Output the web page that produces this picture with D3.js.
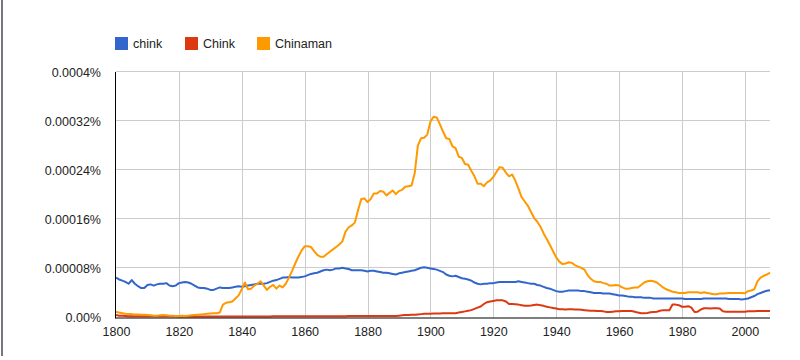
<!DOCTYPE html>
<html>
<head>
<meta charset="utf-8">
<script src="https://cdn.jsdelivr.net/npm/d3@7"></script>
<style>
  html, body { margin: 0; padding: 0; background: #fff; }
  svg { display: block; font-family: "Liberation Sans", Arial, Helvetica, sans-serif; }
</style>
</head>
<body>
<svg id="chart" width="800" height="360"></svg>
<script>
// ---- Data (values in units of 0.00001 %) ----
const startYear = 1800;
const endYear = 2008;
const unit = 1e-5; // one data unit = 0.00001 %

const seriesNames = ["chink", "Chink", "Chinaman"];
const seriesColors = ["#3366cc", "#dc3912", "#ff9900"];

const chinkValues = [
  6.5,6.2,6.0,5.8,5.5,6.1,5.5,5.1,4.8,4.8,
  5.3,5.4,5.2,5.4,5.5,5.5,5.6,5.2,5.1,5.2,
  5.6,5.7,5.8,5.7,5.5,5.2,4.9,4.8,4.8,4.7,
  4.5,4.5,4.7,4.9,4.8,4.8,4.8,4.9,5.0,5.1,
  5.0,5.1,5.2,5.3,5.4,5.5,5.5,5.5,5.6,5.8,
  6.0,6.1,6.3,6.5,6.5,6.6,6.5,6.5,6.5,6.6,
  6.7,6.9,7.1,7.2,7.3,7.5,7.7,7.8,7.7,7.8,
  8.0,8.0,8.1,8.0,7.9,7.7,7.7,7.7,7.7,7.6,
  7.5,7.6,7.6,7.5,7.4,7.3,7.3,7.2,7.1,7.0,
  7.2,7.3,7.4,7.5,7.6,7.7,7.9,8.1,8.2,8.1,
  8.0,7.9,7.8,7.6,7.4,7.0,6.8,6.7,6.8,6.6,
  6.4,6.3,6.2,6.0,5.7,5.5,5.4,5.5,5.5,5.6,
  5.6,5.7,5.8,5.8,5.8,5.8,5.8,5.8,5.9,5.8,
  5.7,5.6,5.5,5.5,5.3,5.2,5.0,4.8,4.7,4.5,
  4.3,4.2,4.2,4.3,4.4,4.4,4.4,4.4,4.3,4.3,
  4.2,4.1,4.0,4.0,4.0,3.9,3.9,3.9,3.8,3.7,
  3.6,3.6,3.5,3.4,3.4,3.3,3.3,3.3,3.2,3.2,
  3.2,3.1,3.1,3.1,3.1,3.1,3.1,3.1,3.1,3.1,
  3.1,3.0,3.0,3.0,3.0,3.0,3.0,3.1,3.1,3.1,
  3.1,3.1,3.1,3.1,3.1,3.0,3.0,3.0,3.0,2.95,
  3.0,3.1,3.3,3.5,3.8,4.0,4.2,4.35,4.45
];

const ChinkValues = [
  0.4,0.3,0.3,0.25,0.2,0.2,0.2,0.2,0.2,0.2,
  0.2,0.2,0.2,0.2,0.2,0.2,0.2,0.2,0.2,0.2,
  0.15,0.15,0.15,0.15,0.15,0.15,0.15,0.15,0.15,0.15,
  0.15,0.15,0.15,0.15,0.15,0.15,0.15,0.15,0.15,0.15,
  0.15,0.15,0.15,0.15,0.15,0.15,0.15,0.15,0.15,0.15,
  0.2,0.2,0.2,0.2,0.2,0.2,0.2,0.2,0.2,0.2,
  0.2,0.2,0.2,0.2,0.2,0.2,0.2,0.2,0.2,0.2,
  0.2,0.2,0.2,0.2,0.25,0.25,0.25,0.25,0.25,0.25,
  0.25,0.25,0.25,0.25,0.25,0.25,0.25,0.25,0.25,0.25,
  0.3,0.35,0.4,0.4,0.45,0.45,0.5,0.55,0.6,0.6,
  0.6,0.65,0.65,0.65,0.7,0.7,0.7,0.7,0.7,0.8,
  0.9,1.0,1.1,1.2,1.4,1.6,1.8,2.2,2.5,2.6,
  2.7,2.8,2.8,2.8,2.6,2.2,2.2,2.15,2.1,2.0,
  1.9,1.9,1.95,2.05,2.1,2.0,1.9,1.75,1.65,1.55,
  1.45,1.35,1.35,1.3,1.35,1.35,1.3,1.3,1.25,1.2,
  1.15,1.1,1.1,1.05,1.05,1.0,0.9,0.9,0.95,1.0,
  1.0,1.05,1.05,1.05,1.05,0.95,0.8,0.7,0.7,0.75,
  0.85,0.9,0.95,1.1,1.2,1.2,1.2,2.1,2.1,2.0,
  1.75,1.75,1.85,1.6,0.9,0.95,1.3,1.5,1.5,1.45,
  1.5,1.5,1.45,1.0,0.95,0.95,0.95,0.95,0.95,0.95,
  0.95,1.0,1.0,1.0,1.05,1.05,1.05,1.05,1.05
];

const ChinamanValues = [
  0.95,0.8,0.7,0.6,0.55,0.55,0.5,0.5,0.45,0.45,
  0.4,0.35,0.3,0.3,0.35,0.4,0.35,0.3,0.3,0.25,
  0.25,0.3,0.25,0.3,0.35,0.4,0.45,0.5,0.55,0.6,
  0.65,0.7,0.7,0.8,2.1,2.4,2.5,2.6,3.1,3.6,
  4.6,5.7,4.6,4.7,5.2,5.5,5.9,5.2,4.5,5.0,
  5.3,4.7,5.2,4.9,5.5,6.5,7.6,8.8,9.9,10.9,
  11.6,11.6,11.5,10.8,10.2,9.9,9.9,10.3,10.7,11.1,
  11.5,11.9,12.4,14.0,14.7,15.0,15.5,17.5,19.3,19.4,
  18.8,19.3,20.2,20.2,20.6,20.5,19.9,20.3,20.7,20.1,
  20.6,20.8,21.3,21.4,21.5,23.5,28.0,29.2,29.3,29.8,
  31.9,32.7,32.6,31.5,30.3,29.2,29.1,27.9,27.6,26.2,
  26.0,25.0,24.9,23.9,23.0,21.8,21.8,21.4,22.0,22.3,
  22.9,23.7,24.5,24.4,23.6,23.0,23.3,22.3,21.0,19.6,
  18.9,18.2,17.2,16.2,15.6,14.8,13.7,12.8,11.8,10.8,
  9.8,9.1,8.7,8.8,9.0,8.9,8.5,8.3,8.1,7.8,
  6.9,6.3,5.9,5.8,5.8,5.6,5.5,5.2,5.2,5.3,
  5.2,4.9,4.7,4.7,4.8,4.9,4.9,5.3,5.7,5.9,
  6.0,5.9,5.7,5.3,4.9,4.6,4.4,4.2,4.1,4.0,
  4.0,4.0,4.1,4.1,4.1,4.1,4.0,4.1,4.0,3.9,
  3.8,3.8,3.9,3.9,3.95,4.0,4.0,4.0,4.0,4.0,
  3.95,4.3,4.4,4.6,5.9,6.5,6.8,7.0,7.3
];

const xTickValues = [1800, 1820, 1840, 1860, 1880, 1900, 1920, 1940, 1960, 1980, 2000];
const yTickValues = [0, 0.00008, 0.00016, 0.00024, 0.00032, 0.0004];
const yTickLabels = ["0.00%", "0.00008%", "0.00016%", "0.00024%", "0.00032%", "0.0004%"];

// ---- Build ----
(function () {
const years = d3.range(startYear, endYear + 1);
const allSeries = [chinkValues, ChinkValues, ChinamanValues].map((vals, i) => ({
  name: seriesNames[i],
  color: seriesColors[i],
  points: vals.map((v, j) => ({ year: years[j], value: v * unit })).filter(p => p.year !== undefined)
}));

const svg = d3.select("#chart");
const pLeft = 116, pRight = 770, pTop = 72, pBottom = 317.5;

const x = d3.scaleLinear().domain([startYear, endYear]).range([pLeft, pRight]);
const y = d3.scaleLinear().domain([0, 0.0004]).range([pBottom, pTop]);

// outer frame line on the left
svg.append("line")
  .attr("x1", 2).attr("x2", 2).attr("y1", 0).attr("y2", 356)
  .attr("stroke", "#2a2f3a").attr("stroke-width", 1.3);

// grid
const grid = svg.append("g");
grid.selectAll("line.v").data(xTickValues.slice(1)).join("line")
  .attr("x1", d => Math.round(x(d)) + 0.5).attr("x2", d => Math.round(x(d)) + 0.5)
  .attr("y1", pTop).attr("y2", pBottom)
  .attr("stroke", "#cccccc").attr("stroke-width", 1);
grid.selectAll("line.h").data(yTickValues.slice(1)).join("line")
  .attr("x1", pLeft).attr("x2", pRight)
  .attr("y1", d => Math.round(y(d)) - 0.5).attr("y2", d => Math.round(y(d)) - 0.5)
  .attr("stroke", "#cccccc").attr("stroke-width", 1);

// Y axis labels
const yAxis = d3.axisLeft(y).tickValues(yTickValues)
  .tickFormat((d, i) => yTickLabels[i]).tickSize(0).tickPadding(15);
const gy = svg.append("g").attr("transform", `translate(${pLeft},0)`).call(yAxis);
gy.select(".domain").remove();
gy.selectAll("text").attr("font-size", "12.5px").attr("fill", "#222")
  .attr("font-family", "Liberation Sans, Arial, sans-serif");

// X axis labels
const xAxis = d3.axisBottom(x).tickValues(xTickValues).tickFormat(d3.format("d"))
  .tickSize(0).tickPadding(10);
const gx = svg.append("g").attr("transform", `translate(0,${pBottom})`).call(xAxis);
gx.select(".domain").remove();
gx.selectAll("text").attr("font-size", "12.5px").attr("fill", "#222")
  .attr("font-family", "Liberation Sans, Arial, sans-serif");

// lines
const line = d3.line().x(d => x(d.year)).y(d => y(d.value));
svg.append("g").selectAll("path").data(allSeries).join("path")
  .attr("d", d => line(d.points))
  .attr("fill", "none")
  .attr("stroke", d => d.color)
  .attr("stroke-width", 2)
  .attr("stroke-linejoin", "round");

// axis lines (black)
svg.append("line").attr("x1", pLeft - 0.5).attr("x2", pLeft - 0.5).attr("y1", pTop).attr("y2", pBottom + 1)
  .attr("stroke", "#000").attr("stroke-width", 1);
svg.append("line").attr("x1", pLeft - 0.5).attr("x2", pRight).attr("y1", pBottom + 0.5).attr("y2", pBottom + 0.5)
  .attr("stroke", "#000").attr("stroke-width", 1);

// legend
const legendX = [115, 185, 257];
const lg = svg.append("g").selectAll("g").data(allSeries).join("g")
  .attr("transform", (d, i) => `translate(${legendX[i]},37)`);
lg.append("rect").attr("width", 13).attr("height", 13).attr("fill", d => d.color);
lg.append("text").attr("x", 18).attr("y", 11)
  .attr("font-size", "12.5px").attr("fill", "#222")
  .attr("font-family", "Liberation Sans, Arial, sans-serif")
  .text(d => d.name);
})();
</script>
</body>
</html>
